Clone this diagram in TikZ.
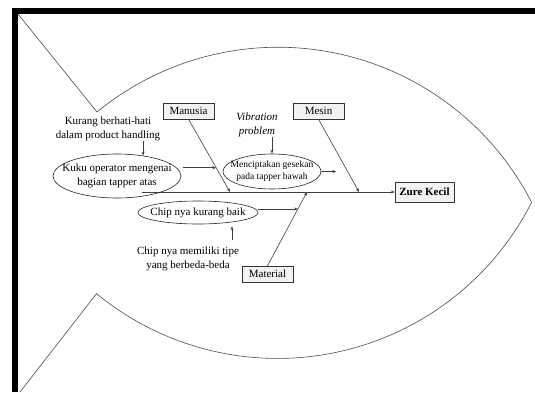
\documentclass[tikz,border=0pt]{standalone}
\usepackage{fontspec}
\setmainfont{Liberation Serif}
\usetikzlibrary{shapes.geometric,arrows.meta,positioning,shadows}

\begin{document}
\begin{tikzpicture}[
  x=1pt, y=1pt,
  box/.style={draw=black!80, fill=gray!10, minimum width=51pt, minimum height=16pt,
              inner sep=2pt, font=\fontsize{11}{13}\selectfont,
              drop shadow={shadow xshift=1pt, shadow yshift=-1pt, fill=gray!55}},
  oval/.style={draw=black!85, line width=0.6pt, ellipse, inner sep=0pt},
  note/.style={align=center, inner sep=0pt, font=\fontsize{11}{13.5}\selectfont},
  arr/.style={draw=black!75, line width=0.6pt, -{Stealth[length=4pt,width=3pt]}},
  fish/.style={draw=black!70, line width=0.6pt}
]
% page and frame
\fill[white] (0,0) rectangle (535,392);
\useasboundingbox (0,0) rectangle (535,392);
\fill[black] (12,0) rectangle (18,384);
\fill[black] (12,378) rectangle (535,384);

% fish outline
\draw[fish] (18,378) -- (97,280)
  arc[start angle=129.4, end angle=27.1, radius=285]
  arc[start angle=-26.9, end angle=-129.4, radius=285] -- (20,0);

% head and spine
\node[box, font=\fontsize{11}{13}\selectfont\bfseries, minimum width=59pt,
      minimum height=20pt] (zure) at (424.5,200) {Zure Kecil};
\coordinate (tail) at (142,200);
\draw[arr] (tail) -- (zure.west);

% main bones
\node[box] (manusia) at (188.5,281) {Manusia};
\node[box] (mesin) at (318.5,281) {Mesin};
\node[box] (material) at (267.5,118) {Material};
\coordinate (s1) at (230,200);
\coordinate (s2) at (359,200);
\coordinate (s3) at (307,200);
\draw[arr] (manusia.south) -- (s1);
\draw[arr] (mesin.south) -- (s2);
\draw[arr] (material.north) -- (s3);
\path (manusia.south) -- (s1) coordinate[pos=0.667] (mk);
\path (material.north) -- (s3) coordinate[pos=0.77] (mc);

% causes
\node[oval, minimum width=128pt, minimum height=44pt,
      label={[note]center:{Kuku operator mengenai\\bagian tapper atas}}]
  (kuku) at (117,216) {};
\node[oval, minimum width=98pt, minimum height=35pt,
      label={[note, font=\fontsize{9.5}{12}\selectfont]center:{Menciptakan gesekan\\pada tapper bawah}}]
  (gesek) at (272,220.5) {};
\node[oval, minimum width=120pt, minimum height=23pt,
      label={[note]center:{Chip nya kurang baik}}]
  (chip) at (198,179.5) {};

\node[note] (kurang) at (108,263) {Kurang berhati-hati\\dalam product handling};
\node[note, font=\fontsize{11}{13.5}\selectfont\itshape] (vib) at (257,267) {Vibration\\problem};
\node[note] (tipe) at (188,133) {Chip nya memiliki tipe\\yang berbeda-beda};
\coordinate[right=15pt of gesek.east] (gout);

\draw[arr] (kurang.south -| kuku.38) -- (kuku.38);
\draw[arr] ([xshift=2pt]kuku.east |- mk) -- (mk);
\draw[arr] (vib.south -| gesek.north) -- (gesek.north);
\draw[arr] (gesek.east) -- (gout);
\draw[arr] (chip.east |- mc) -- (mc);
\draw[arr] ([xshift=44pt,yshift=7pt]tipe.north) -- ([xshift=34pt,yshift=-2pt]chip.south);
\end{tikzpicture}
\end{document}
